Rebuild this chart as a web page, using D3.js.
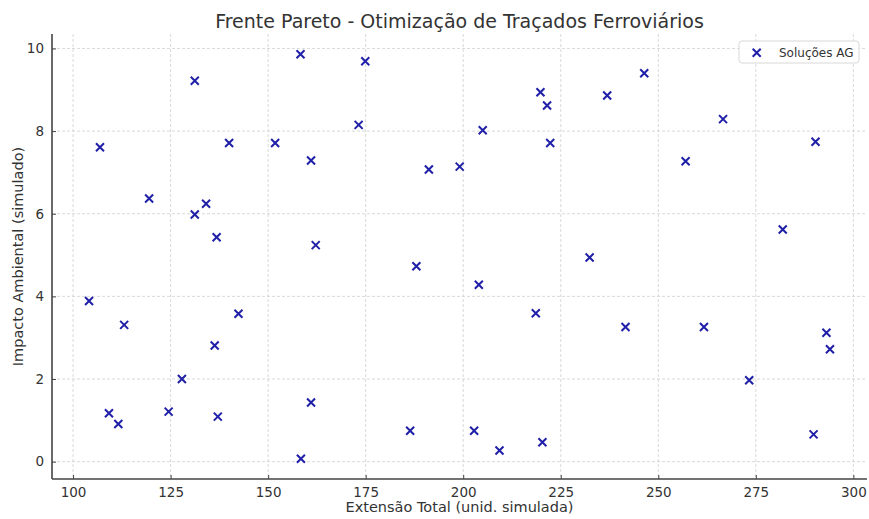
<!DOCTYPE html>
<html>
<head>
<meta charset="utf-8">
<script src="https://cdn.jsdelivr.net/npm/d3@7"></script>
<style>
  body { margin: 0; background: #fff; }
  text { font-family: "DejaVu Sans", sans-serif; fill: #333; }
</style>
</head>
<body>
<div id="chart"></div>
<script>
// Pareto front points
const extensao = [
  106.9, 131.2, 158.3, 140.0, 151.8, 161.0, 119.5, 134.1, 131.2, 136.8,
  162.2, 174.9, 173.2, 191.2, 199.1, 205.0, 219.8, 221.5, 222.3, 232.4,
  236.9, 246.4, 266.6, 257.0, 290.3, 281.9, 104.1, 113.1, 142.4, 136.3,
  127.9, 109.2, 111.6, 124.5, 137.1, 161.0, 158.4, 188.0, 204.0, 218.6,
  186.4, 202.8, 209.3, 220.3, 241.6, 261.7, 273.3, 293.1, 294.0, 289.8
];
const impacto = [
  7.61, 9.22, 9.86, 7.71, 7.71, 7.29, 6.37, 6.24, 5.98, 5.43,
  5.24, 9.69, 8.15, 7.07, 7.14, 8.02, 8.94, 8.62, 7.71, 4.94,
  8.86, 9.40, 8.29, 7.27, 7.74, 5.62, 3.89, 3.31, 3.58, 2.81,
  2.00, 1.17, 0.91, 1.21, 1.09, 1.43, 0.07, 4.73, 4.28, 3.59,
  0.75, 0.75, 0.27, 0.47, 3.26, 3.26, 1.97, 3.12, 2.72, 0.66
];
const xTicks = [100, 125, 150, 175, 200, 225, 250, 275, 300];
const yTicks = [0, 2, 4, 6, 8, 10];

const title = "Frente Pareto - Otimização de Traçados Ferroviários";
const xLabel = "Extensão Total (unid. simulada)";
const yLabel = "Impacto Ambiental (simulado)";
const seriesName = "Soluções AG";

const data = extensao.map((x, i) => ({ x: x, y: impacto[i] }));

const W = 869, H = 519;
const margin = { top: 34, right: 2, bottom: 40, left: 52 };
const width = W - margin.left - margin.right;
const height = H - margin.top - margin.bottom;
const markColor = "#1f1fa8";

const svg = d3.select("#chart").append("svg")
    .attr("width", W)
    .attr("height", H);

const g = svg.append("g")
    .attr("transform", `translate(${margin.left},${margin.top})`);

// matplotlib-like 5% padding
const xMin = d3.min(extensao), xMax = d3.max(extensao);
const yMin = d3.min(impacto), yMax = d3.max(impacto);
const xPad = (xMax - xMin) * 0.05, yPad = (yMax - yMin) * 0.05;

const xScale = d3.scaleLinear()
    .domain([xMin - xPad, xMax + xPad])
    .range([0, width]);

const yScale = d3.scaleLinear()
    .domain([yMin - yPad, yMax + yPad])
    .range([height, 0]);

// Grid
g.append("g")
    .selectAll("line")
    .data(xTicks)
    .enter()
    .append("line")
    .attr("x1", d => xScale(d))
    .attr("x2", d => xScale(d))
    .attr("y1", 0)
    .attr("y2", height)
    .attr("stroke", "#cfcfcf")
    .attr("stroke-width", 0.8)
    .attr("stroke-dasharray", "3,2");

g.append("g")
    .selectAll("line")
    .data(yTicks)
    .enter()
    .append("line")
    .attr("x1", 0)
    .attr("x2", width)
    .attr("y1", d => yScale(d))
    .attr("y2", d => yScale(d))
    .attr("stroke", "#cfcfcf")
    .attr("stroke-width", 0.8)
    .attr("stroke-dasharray", "3,2");

// Axes (ticks pointing inward)
const xAxis = d3.axisBottom(xScale).tickValues(xTicks).tickSizeInner(-4).tickSizeOuter(0).tickPadding(8);
const yAxis = d3.axisLeft(yScale).tickValues(yTicks).tickSizeInner(-4).tickSizeOuter(0).tickPadding(8);

const gx = g.append("g")
    .attr("transform", `translate(0,${height})`)
    .call(xAxis);
const gy = g.append("g")
    .call(yAxis);

[gx, gy].forEach(ax => {
    ax.select(".domain").attr("stroke", "#444").attr("stroke-width", 1.6);
    ax.selectAll(".tick line").attr("stroke", "#444").attr("stroke-width", 1);
    ax.selectAll(".tick text")
        .style("font-family", "DejaVu Sans, sans-serif")
        .style("font-size", "13.5px")
        .attr("fill", "#333");
});
gy.select(".domain").attr("d", `M0,0V${height}`);
gx.select(".domain").attr("d", `M0,0H${width}`);

// Points as x markers
const s = 4;
const pts = g.append("g")
    .selectAll("path")
    .data(data)
    .enter()
    .append("path")
    .attr("d", d => {
        const cx = xScale(d.x), cy = yScale(d.y);
        return `M${cx - s},${cy - s}L${cx + s},${cy + s}M${cx - s},${cy + s}L${cx + s},${cy - s}`;
    })
    .attr("stroke", markColor)
    .attr("stroke-width", 2)
    .attr("fill", "none");

// Title
svg.append("text")
    .attr("x", margin.left + width / 2)
    .attr("y", 28)
    .attr("text-anchor", "middle")
    .style("font-size", "19px")
    .text(title);

// Axis labels
svg.append("text")
    .attr("x", margin.left + width / 2)
    .attr("y", 512)
    .attr("text-anchor", "middle")
    .style("font-size", "14.5px")
    .text(xLabel);

svg.append("text")
    .attr("transform", "rotate(-90)")
    .attr("x", -(margin.top + height / 2))
    .attr("y", 23)
    .attr("text-anchor", "middle")
    .style("font-size", "14.5px")
    .text(yLabel);

// Legend
const legend = svg.append("g").attr("transform", "translate(739,41)");
legend.append("rect")
    .attr("width", 120)
    .attr("height", 22)
    .attr("rx", 3)
    .attr("fill", "#fff")
    .attr("fill-opacity", 0.85)
    .attr("stroke", "#d8d8d8")
    .attr("stroke-width", 1);
legend.append("path")
    .attr("d", `M${17.7 - s},${11.7 - s}L${17.7 + s},${11.7 + s}M${17.7 - s},${11.7 + s}L${17.7 + s},${11.7 - s}`)
    .attr("stroke", markColor)
    .attr("stroke-width", 2);
legend.append("text")
    .attr("x", 40)
    .attr("y", 16)
    .style("font-size", "12px")
    .text(seriesName);
</script>
</body>
</html>
